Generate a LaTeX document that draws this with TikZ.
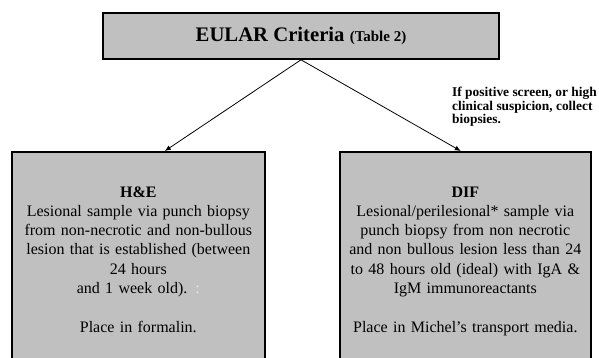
\documentclass[tikz,border=0pt]{standalone}
\usepackage{fontspec}
\setmainfont{Liberation Serif}
\usepackage{xcolor}
\usetikzlibrary{arrows.meta,positioning}
\definecolor{boxgray}{RGB}{192,192,192}
\definecolor{fadegray}{RGB}{232,232,232}

\begin{document}
\begin{tikzpicture}[x=1pt,y=1pt,
    box/.style={draw=black,line width=1.6pt,fill=boxgray,inner sep=0pt},
    bodytext/.style={align=center,text width=250pt,inner sep=0pt,font=\fontsize{16}{19.3}\selectfont},
    link/.style={-{Latex[length=6pt,width=5pt]},line width=0.8pt}]
    \useasboundingbox (0,0) rectangle (599,-358);
    \clip (0,0) rectangle (599,-358);

    % boxes
    \node[box,minimum width=396pt,minimum height=46pt,font=\bfseries\fontsize{20.7}{24}\selectfont] (eular) at (301,-36)
        {EULAR Criteria {\fontsize{15}{18}\selectfont (Table 2)}};
    \node[box,anchor=north west,minimum width=253pt,minimum height=220pt] (he) at (11,-151) {};
    \node[box,anchor=north west,minimum width=251pt,minimum height=220pt] (dif) at (339,-151) {};

    % texts
    \node[bodytext,anchor=base] (heText) at ([yshift=-46pt]he.north)
        {\textbf{H\&E}\\
         Lesional sample via punch biopsy\\
         from non-necrotic and non-bullous\\
         lesion that is established (between\\
         24 hours\\
         and 1 week old). \textcolor{fadegray}{:}\\[19.3pt]
         Place in formalin.};
    \node[bodytext,anchor=base] (difText) at ([yshift=-46pt]dif.north)
        {\textbf{DIF}\\
         Lesional/perilesional* sample via\\
         punch biopsy from non necrotic\\
         and non bullous lesion less than 24\\
         to 48 hours old (ideal) with IgA \&\\
         IgM immunoreactants\\[19.3pt]
         Place in Michel's transport media.};
    \node[font=\bfseries\fontsize{13.4}{13.4}\selectfont,align=left,anchor=north west,inner sep=0pt] (note) at (452,-87)
        {If positive screen, or high\\
         clinical suspicion, collect\\
         biopsies.};

    % arrows
    \draw[link] (eular.south) -- ([xshift=26.5pt]he.north);
    \draw[link] (eular.south) -- ([xshift=-4.5pt]dif.north);
\end{tikzpicture}
\end{document}
